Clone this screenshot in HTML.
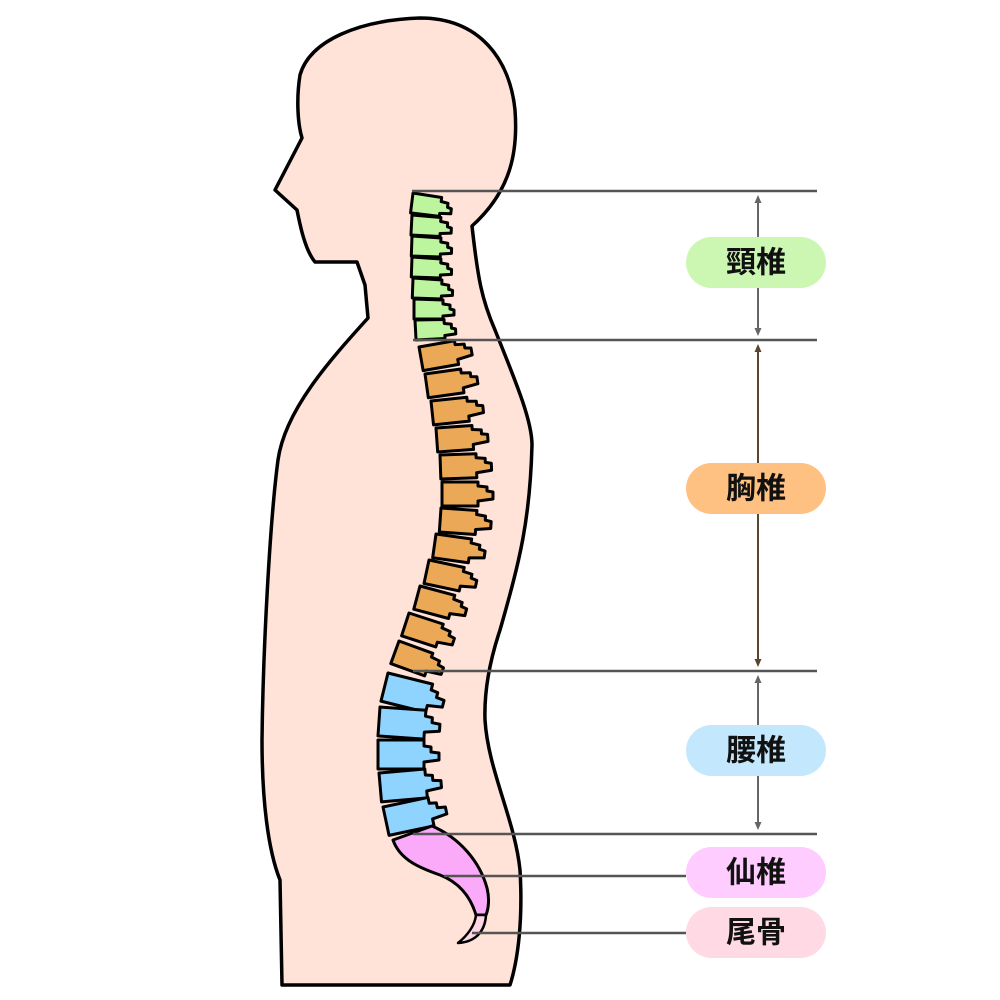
<!DOCTYPE html>
<html><head><meta charset="utf-8"><style>
html,body{margin:0;padding:0;background:#fff;}
svg{display:block;}
text{font-family:"Liberation Sans","Noto Sans CJK JP",sans-serif;font-size:30px;font-weight:bold;fill:#111;text-anchor:middle;dominant-baseline:central;}
</style></head><body>
<svg width="1000" height="1000" viewBox="0 0 1000 1000" xmlns="http://www.w3.org/2000/svg">
<defs>
<marker id="ah" markerWidth="8" markerHeight="8" refX="6" refY="4" orient="auto-start-reverse" markerUnits="userSpaceOnUse"><path d="M0,0.5 L8,4 L0,7.5 z" fill="#666"/></marker>
<marker id="ahb" markerWidth="8" markerHeight="8" refX="6" refY="4" orient="auto-start-reverse" markerUnits="userSpaceOnUse"><path d="M0,0.5 L8,4 L0,7.5 z" fill="#5a4630"/></marker>
</defs>
<!-- body -->
<path d="M282,985 L280,880 C268,850 262,800 262,740 C263,650 270,520 278,460 C285,410 330,360 368,318 L365,285 L357,262 L315,262 C305,250 300,225 297,210 L275,190 L302,138 C298,125 296,100 300,75 C310,40 360,20 420,18 C480,18 510,60 515,110 C518,150 512,190 472,226 C478,280 482,300 495,330 C515,380 532,420 532,445 C530,520 520,560 500,630 C490,660 484,690 485,720 C488,770 515,820 520,870 C523,920 518,960 510,985 Z" fill="#ffe2d8" stroke="#000" stroke-width="3.5" stroke-linejoin="round"/>
<!-- cervical -->
<g fill="#bdf59e" stroke="#000" stroke-width="3" stroke-linejoin="round">
<g transform="translate(413,193) rotate(7)"><polygon points="0,0 29,1 29,5 36,6 36,10 40,11 40,16 29,17 29,20 0,20"/></g>
<g transform="translate(412,215) rotate(3)"><polygon points="0,0 29,1 29,5 36,6 36,10 40,11 40,16 29,17 29,20 0,20"/></g>
<g transform="translate(412,236) rotate(2)"><polygon points="0,0 29,1 29,5 36,6 36,10 40,11 40,16 29,17 29,20 0,20"/></g>
<g transform="translate(412,257) rotate(2)"><polygon points="0,0 29,1 29,5 36,6 36,10 40,11 40,16 29,17 29,20 0,20"/></g>
<g transform="translate(413,278) rotate(2)"><polygon points="0,0 29,1 29,5 36,6 36,10 40,11 40,16 29,17 29,20 0,20"/></g>
<g transform="translate(414,299) rotate(0)"><polygon points="0,0 29,1 29,5 36,6 36,10 40,11 40,16 29,17 29,20 0,20"/></g>
<g transform="translate(415,320) rotate(-3)"><polygon points="0,0 29,1 29,5 36,6 36,10 40,11 40,16 29,17 29,20 0,20"/></g>
</g>
<!-- thoracic -->
<g fill="#eba957" stroke="#000" stroke-width="3" stroke-linejoin="round">
<g transform="translate(419,347) rotate(-10)"><polygon points="0,0 36,0 36,4 45,5 45,9 51,10 51,17 36,19 36,24 0,24"/></g>
<g transform="translate(425,374) rotate(-8)"><polygon points="0,0 36,0 36,4 45,5 45,9 51,10 51,17 36,19 36,24 0,24"/></g>
<g transform="translate(431,401) rotate(-6)"><polygon points="0,0 36,0 36,4 45,5 45,9 51,10 51,17 36,19 36,24 0,24"/></g>
<g transform="translate(436,428) rotate(-4)"><polygon points="0,0 36,0 36,4 45,5 45,9 51,10 51,17 36,19 36,24 0,24"/></g>
<g transform="translate(440,455) rotate(-2)"><polygon points="0,0 36,0 36,4 45,5 45,9 51,10 51,17 36,19 36,24 0,24"/></g>
<g transform="translate(442,482) rotate(0)"><polygon points="0,0 36,0 36,4 45,5 45,9 51,10 51,17 36,19 36,24 0,24"/></g>
<g transform="translate(441,508) rotate(4)"><polygon points="0,0 36,0 36,4 45,5 45,9 51,10 51,17 36,19 36,24 0,24"/></g>
<g transform="translate(436,534) rotate(8)"><polygon points="0,0 36,0 36,4 45,5 45,9 51,10 51,17 36,19 36,24 0,24"/></g>
<g transform="translate(429,560) rotate(12)"><polygon points="0,0 36,0 36,4 45,5 45,9 51,10 51,17 36,19 36,24 0,24"/></g>
<g transform="translate(420,586) rotate(15)"><polygon points="0,0 36,0 36,4 45,5 45,9 51,10 51,17 36,19 36,24 0,24"/></g>
<g transform="translate(409,613) rotate(18)"><polygon points="0,0 36,0 36,4 45,5 45,9 51,10 51,17 36,19 36,24 0,24"/></g>
<g transform="translate(399,641) rotate(20)"><polygon points="0,0 36,0 36,4 45,5 45,9 51,10 51,17 36,19 36,24 0,24"/></g>
</g>
<!-- lumbar -->
<g fill="#8fd3ff" stroke="#000" stroke-width="3" stroke-linejoin="round">
<g transform="translate(388,673) rotate(14)"><polygon points="0,0 46,0 46,6 53,7 53,12 61,13 61,20 46,22 46,29 0,29"/></g>
<g transform="translate(380,707) rotate(4)"><polygon points="0,0 46,0 46,6 53,7 53,12 61,13 61,20 46,22 46,29 0,29"/></g>
<g transform="translate(378,740) rotate(0)"><polygon points="0,0 46,0 46,6 53,7 53,12 61,13 61,20 46,22 46,29 0,29"/></g>
<g transform="translate(379,773) rotate(-5)"><polygon points="0,0 46,0 46,6 53,7 53,12 61,13 61,20 46,22 46,29 0,29"/></g>
<g transform="translate(383,807) rotate(-12)"><polygon points="0,0 46,0 46,6 53,7 53,12 61,13 61,20 46,22 46,29 0,29"/></g>
</g>
<!-- sacrum -->
<path d="M393,840 L432,826 C460,838 480,862 487,888 C490,900 488,910 486,915 L476,915 C470,895 458,882 440,875 C420,868 400,860 393,840 Z" fill="#fbaaf9" stroke="#000" stroke-width="3" stroke-linejoin="round"/>
<path d="M476,915 L486,915 C485,932 475,942 458,943 C468,935 475,925 476,915 Z" fill="#ffd6e6" stroke="#000" stroke-width="2.5" stroke-linejoin="round"/>
<!-- level lines -->
<g stroke="#555" stroke-width="2.5">
<line x1="412" y1="191" x2="817" y2="191"/>
<line x1="413" y1="340" x2="817" y2="340"/>
<line x1="413" y1="671" x2="817" y2="671"/>
<line x1="413" y1="834" x2="817" y2="834"/>
<line x1="444" y1="876" x2="686" y2="876"/>
<line x1="472" y1="933" x2="686" y2="933"/>
</g>
<g stroke="#666" stroke-width="2">
<line x1="758" y1="197" x2="758" y2="237" marker-start="url(#ah)"/>
<line x1="758" y1="288" x2="758" y2="334" marker-end="url(#ah)"/>
<line x1="758" y1="677" x2="758" y2="725" marker-start="url(#ah)"/>
<line x1="758" y1="776" x2="758" y2="828" marker-end="url(#ah)"/>
</g>
<g stroke="#5a4630" stroke-width="2">
<line x1="758" y1="346" x2="758" y2="463" marker-start="url(#ahb)"/>
<line x1="758" y1="514" x2="758" y2="665" marker-end="url(#ahb)"/>
</g>
<!-- pills -->
<rect x="686" y="237" width="140" height="51" rx="25.5" fill="#ccf7b3"/>
<text x="756" y="263">頸椎</text>
<rect x="686" y="463" width="140" height="51" rx="25.5" fill="#ffc182"/>
<text x="756" y="489">胸椎</text>
<rect x="686" y="725" width="140" height="51" rx="25.5" fill="#c3e8fd"/>
<text x="756" y="751">腰椎</text>
<rect x="686" y="847" width="140" height="51" rx="25.5" fill="#ffccff"/>
<text x="756" y="873">仙椎</text>
<rect x="686" y="907" width="140" height="51" rx="25.5" fill="#ffd9e4"/>
<text x="756" y="933">尾骨</text>
</svg>
</body></html>
